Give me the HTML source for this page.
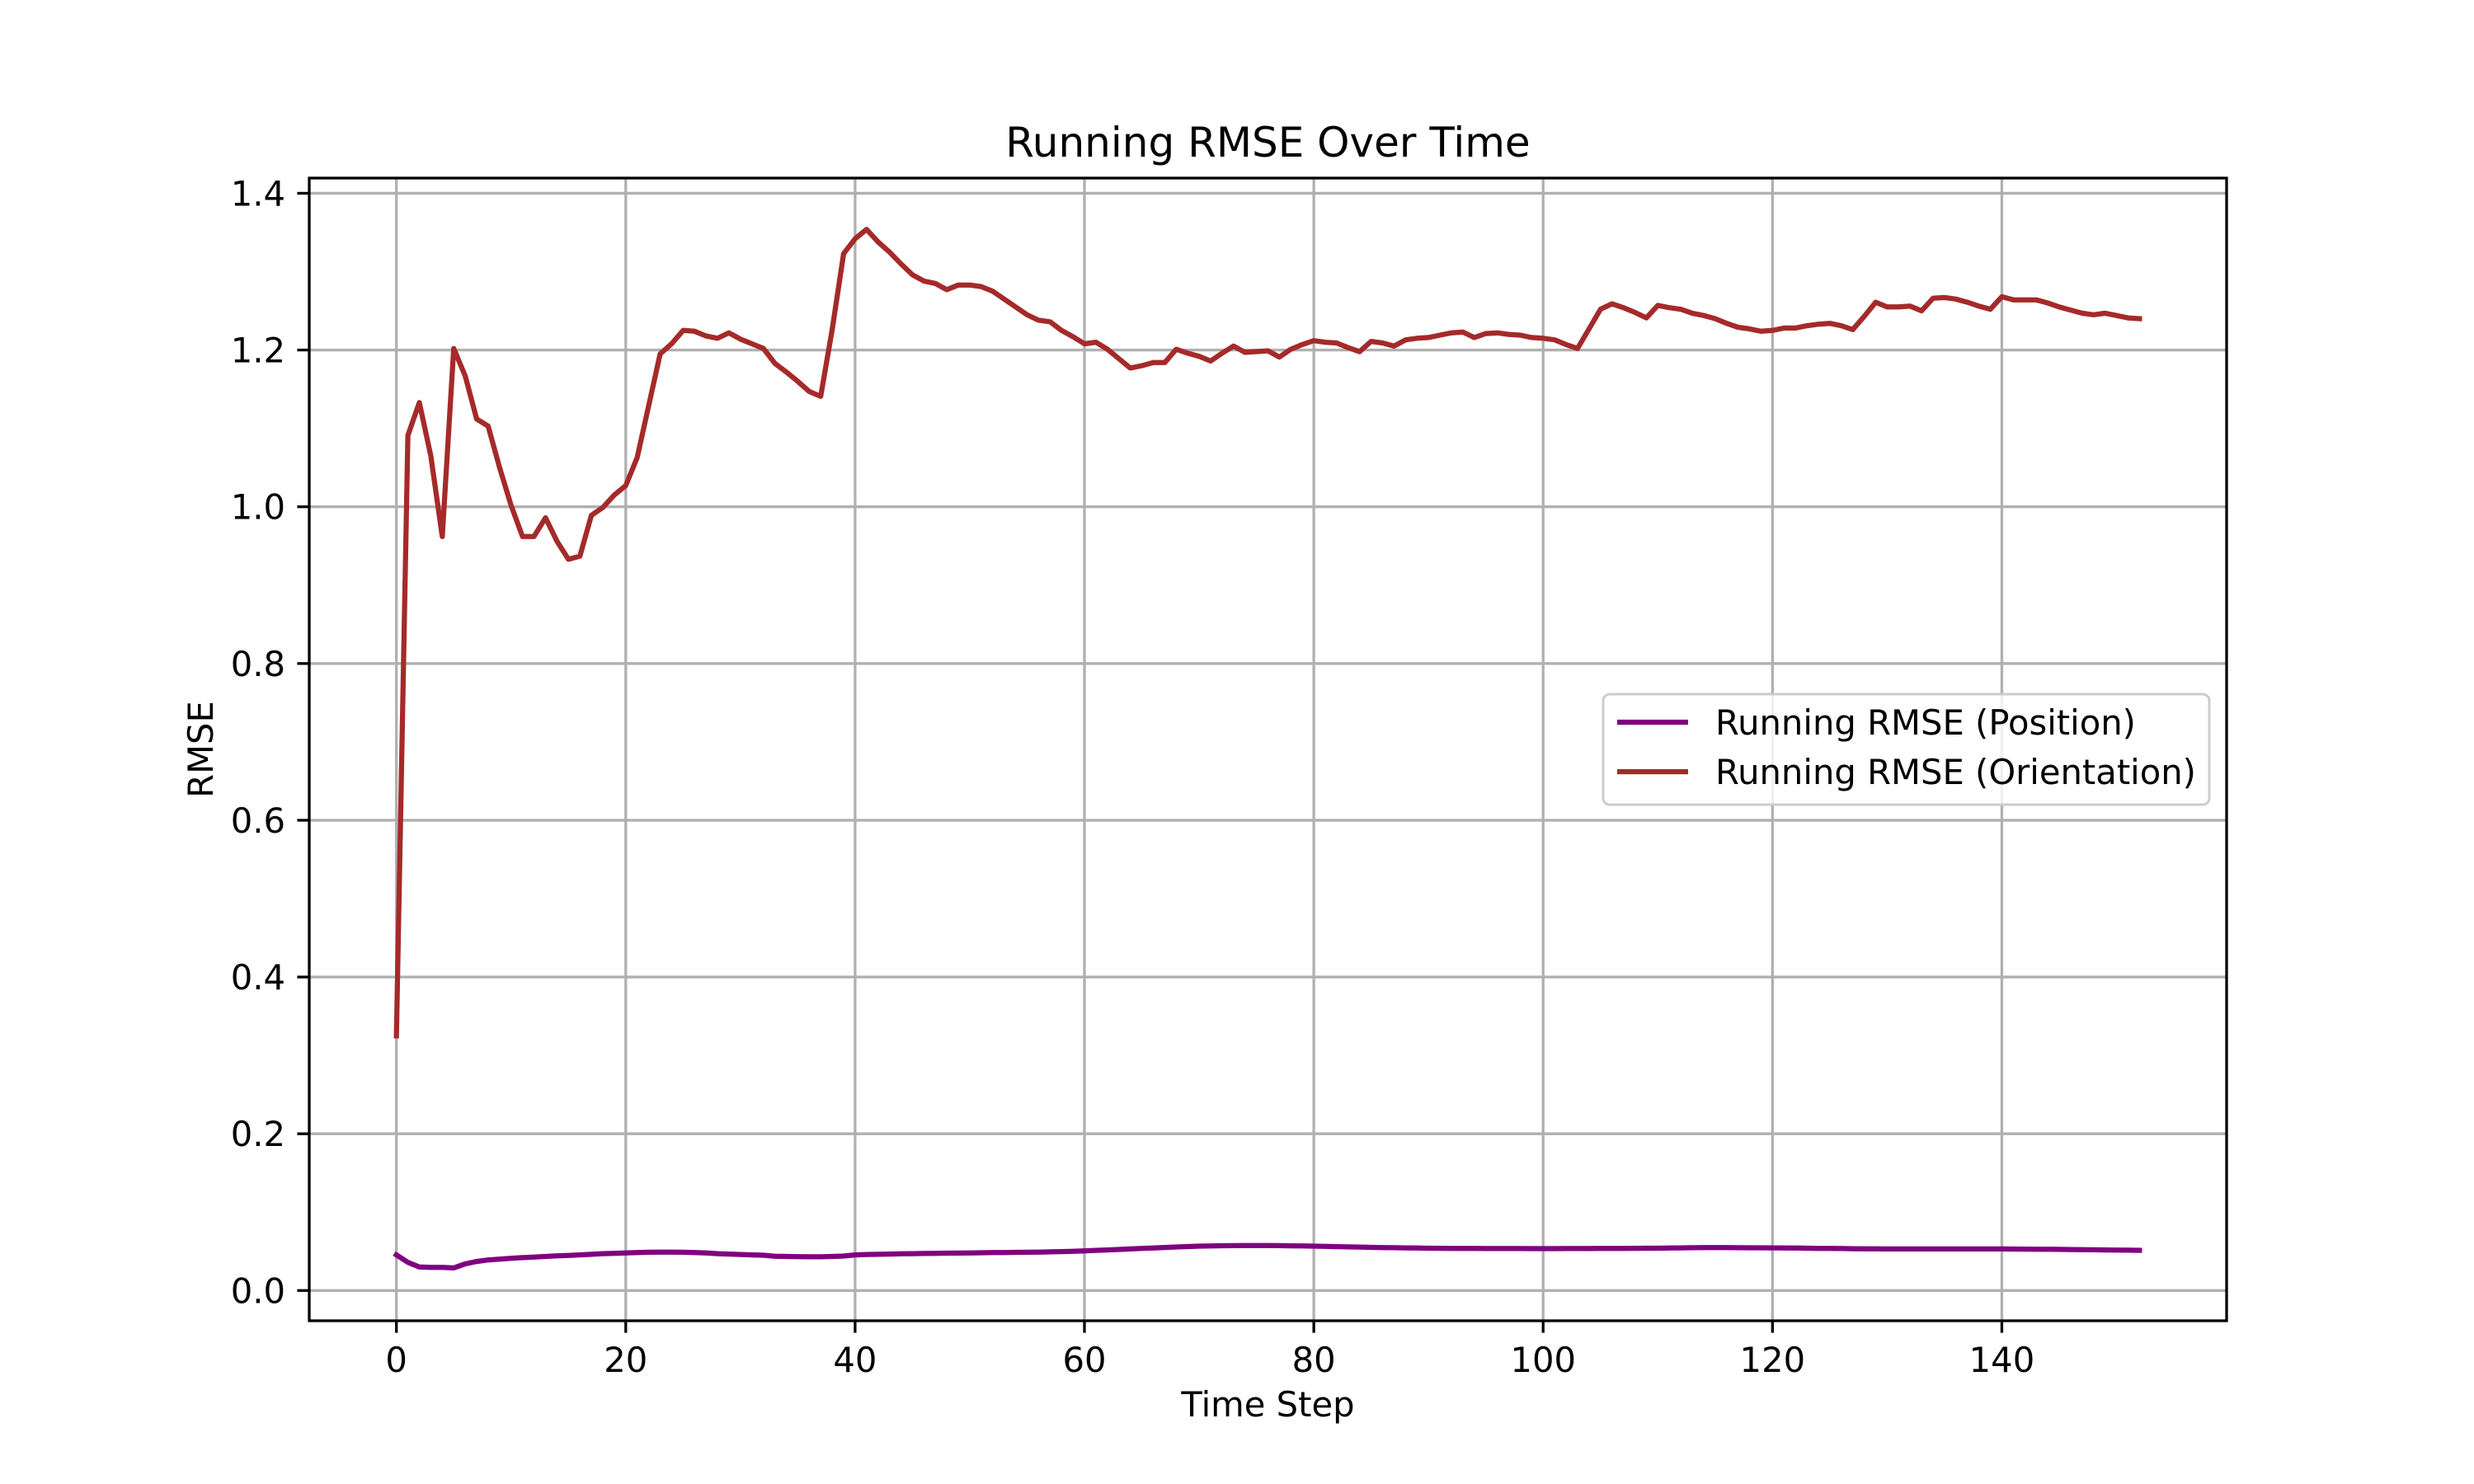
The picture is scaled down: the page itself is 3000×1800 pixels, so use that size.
<!DOCTYPE html>
<html><head><meta charset="utf-8"><style>
html,body{margin:0;padding:0;background:#fff}
svg{display:block;font-family:"DejaVu Sans","Liberation Sans",sans-serif}
</style></head><body>
<svg id="chart" width="3000" height="1800" viewBox="0 0 3000 1800">
<rect width="3000" height="1800" fill="#fff"/>
<g id="grid"></g>
<g id="series"></g>
<rect x="375" y="216" width="2325" height="1386" fill="none" stroke="#000" stroke-width="3.3"/>
<g id="ticks"></g>
<text x="1537.5" y="190" text-anchor="middle" font-size="50">Running RMSE Over Time</text>
<text x="1537.5" y="1718" text-anchor="middle" font-size="41.7">Time Step</text>
<text x="0" y="0" transform="translate(258,909) rotate(-90)" text-anchor="middle" font-size="41.7">RMSE</text>
<g>
<rect x="1944" y="842" width="735" height="134" rx="8" fill="#fff" fill-opacity="0.8" stroke="#ccc" stroke-width="3"/>
<line x1="1961" y1="876" x2="2047" y2="876" stroke="#800080" stroke-width="6.25"/>
<text x="2080" y="891" font-size="41.7">Running RMSE (Position)</text>
<line x1="1961" y1="936" x2="2047" y2="936" stroke="#a52a2a" stroke-width="6.25"/>
<text x="2080" y="951" font-size="41.7">Running RMSE (Orientation)</text>
</g>
</svg>
<script>
const xTicks = [0,20,40,60,80,100,120,140];
const yTicks = [0.0,0.2,0.4,0.6,0.8,1.0,1.2,1.4];
const yTickLabels = ["0.0","0.2","0.4","0.6","0.8","1.0","1.2","1.4"];
const positionRMSE = [.0455,.036,.030,.0295,.0295,.0288,.034,.037,.039,.040,
.041,.042,.0427,.0435,.0442,.0448,.0455,.0462,.047,.0475,
.048,.0485,.0488,.049,.049,.0488,.0485,.048,.047,.0465,
.046,.0455,.045,.0438,.0435,.0432,.043,.043,.0435,.044,
.0455,.046,.0462,.0465,.0468,.047,.0472,.0475,.0477,.0478,
.048,.0482,.0484,.0485,.0487,.0488,.049,.0493,.0497,.0501,
.0505,.0512,.0518,.0524,.053,.0537,.0543,.0549,.0555,.0561,
.0566,.0569,.0571,.0572,.0573,.0573,.0573,.0572,.0570,.0568,
.0566,.0563,.0560,.0557,.0554,.055,.0548,.0546,.0544,.0542,
.054,.0539,.0538,.0537,.0537,.0536,.0536,.0535,.0535,.0534,
.0534,.0534,.0535,.0535,.0536,.0537,.0537,.0538,.0539,.054,
.054,.0542,.0544,.0546,.0547,.0548,.0547,.0546,.0545,.0545,
.0544,.0543,.0542,.0540,.0538,.0537,.0535,.0533,.0532,.0531,
.053,.053,.053,.053,.053,.053,.053,.053,.053,.053,
.053,.0529,.0528,.0527,.0526,.0525,.0523,.0522,.052,.0518,.0516,.0514,.0512];
const orientationRMSE = [0.325,1.091,1.133,1.065,0.962,1.202,1.167,1.112,1.103,1.05,
1.002,0.962,0.962,0.986,0.956,0.933,0.937,0.989,0.999,1.015,
1.027,1.063,1.129,1.195,1.208,1.225,1.224,1.218,1.215,1.222,
1.214,1.208,1.202,1.183,1.172,1.16,1.147,1.141,1.226,1.323,
1.342,1.354,1.338,1.325,1.31,1.296,1.288,1.285,1.277,1.283,
1.283,1.281,1.275,1.265,1.255,1.245,1.238,1.236,1.225,1.217,
1.208,1.210,1.201,1.189,1.177,1.180,1.184,1.184,1.201,1.196,
1.192,1.186,1.196,1.205,1.197,1.198,1.199,1.191,1.201,1.207,
1.212,1.210,1.209,1.203,1.198,1.211,1.209,1.205,1.213,1.215,
1.216,1.219,1.222,1.223,1.216,1.221,1.222,1.220,1.219,1.216,
1.215,1.213,1.207,1.202,1.227,1.252,1.259,1.254,1.248,1.241,
1.257,1.254,1.252,1.247,1.244,1.240,1.234,1.229,1.227,1.224,
1.225,1.228,1.228,1.231,1.233,1.234,1.231,1.226,1.243,1.261,
1.255,1.255,1.256,1.250,1.266,1.267,1.265,1.261,1.256,1.252,
1.268,1.264,1.264,1.264,1.260,1.255,1.251,1.247,1.245,1.247,1.244,1.241,1.240];

const L=375,R=2700,T=216,B=1602;
const X0=-7.6,X1=159.6,Y0=-0.0386,Y1=1.4194;
const sx=v=>L+(v-X0)/(X1-X0)*(R-L);
const sy=v=>B-(v-Y0)/(Y1-Y0)*(B-T);
const NS="http://www.w3.org/2000/svg";
const grid=document.getElementById('grid'),ticks=document.getElementById('ticks'),series=document.getElementById('series');
function mk(tag,attrs,parent){const e=document.createElementNS(NS,tag);for(const k in attrs)e.setAttribute(k,attrs[k]);parent.appendChild(e);return e;}
xTicks.forEach(t=>{
  const x=sx(t);
  const g=mk('line',{x1:x,x2:x,y1:T,y2:B,stroke:'#b0b0b0','stroke-width':3.3},grid);
  
  
  const tk=mk('line',{x1:x,x2:x,y1:B,y2:B+14.6,stroke:'#000','stroke-width':3.3},ticks);
  
  
  const tx=mk('text',{x:x,y:B+62,'text-anchor':'middle','font-size':41.7},ticks);
  tx.textContent=String(t);
  
  
});
yTicks.forEach((t,i)=>{
  const y=sy(t);
  const g=mk('line',{x1:L,x2:R,y1:y,y2:y,stroke:'#b0b0b0','stroke-width':3.3},grid);
  
  
  const tk=mk('line',{x1:L-14.6,x2:L,y1:y,y2:y,stroke:'#000','stroke-width':3.3},ticks);
  
  
  const tx=mk('text',{x:L-29,y:y+15,'text-anchor':'end','font-size':41.7},ticks);
  tx.textContent=yTickLabels[i];
  
  
});
function line(arr,color,name){
  const d=arr.map((v,i)=>(i?'L':'M')+sx(i).toFixed(1)+' '+sy(v).toFixed(1)).join(' ');
  const p=mk('path',{d:d,fill:'none',stroke:color,'stroke-width':6.25,'stroke-linejoin':'round','stroke-linecap':'square'},series);
  
  
}
line(positionRMSE,'#800080','position-rmse-line');
line(orientationRMSE,'#a52a2a','orientation-rmse-line');
</script>
</body></html>
